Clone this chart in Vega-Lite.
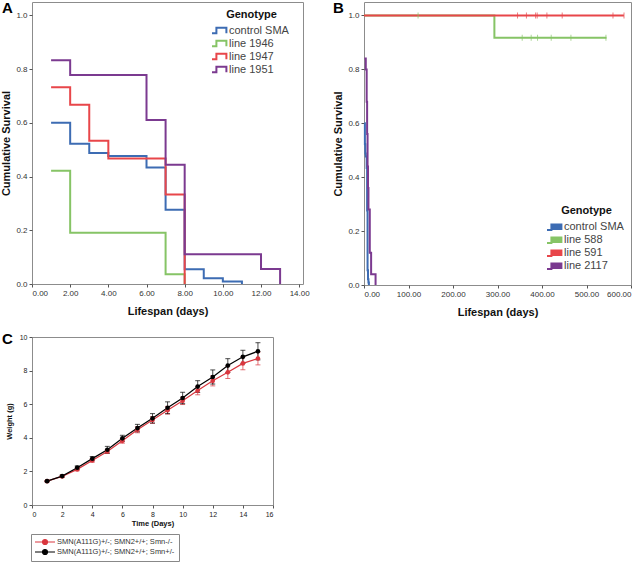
{
  "$schema": "https://vega.github.io/schema/vega-lite/v6.json",
  "autosize": {"type": "none", "contains": "content"},
  "padding": {"left": 32, "top": 2, "right": 611, "bottom": 560},
  "bounds": "flush",
  "columns": 2,
  "spacing": {"row": 52, "column": 61},
  "resolve": {"scale": {"color": "independent", "x": "independent", "y": "independent"}, "legend": {"color": "independent"}, "axis": {"x": "independent", "y": "independent"}},
  "config": {
    "font": "Liberation Sans",
    "view": {"stroke": "#8c8c8c", "strokeWidth": 1},
    "axis": {"grid": false, "domain": false, "tickColor": "#555", "labelColor": "#333", "titleColor": "#111", "titleFontWeight": "bold", "labelFont": "Liberation Sans", "titleFont": "Liberation Sans", "labelOverlap": false},
    "legend": {"labelFont": "Liberation Sans", "titleFont": "Liberation Sans"}
  },
  "datasets": {
    "kmA": [
      {"g": "control SMA", "t": 1, "s": 0.6},
      {"g": "control SMA", "t": 2, "s": 0.522},
      {"g": "control SMA", "t": 3, "s": 0.488},
      {"g": "control SMA", "t": 4, "s": 0.477},
      {"g": "control SMA", "t": 6, "s": 0.434},
      {"g": "control SMA", "t": 7, "s": 0.276},
      {"g": "control SMA", "t": 8, "s": 0.055},
      {"g": "control SMA", "t": 9, "s": 0.021},
      {"g": "control SMA", "t": 10, "s": 0.009},
      {"g": "control SMA", "t": 11, "s": 0},
      {"g": "line 1946", "t": 1, "s": 0.422},
      {"g": "line 1946", "t": 2, "s": 0.191},
      {"g": "line 1946", "t": 7, "s": 0.036},
      {"g": "line 1946", "t": 8, "s": 0},
      {"g": "line 1947", "t": 1, "s": 0.733},
      {"g": "line 1947", "t": 2, "s": 0.667},
      {"g": "line 1947", "t": 3, "s": 0.533},
      {"g": "line 1947", "t": 4, "s": 0.467},
      {"g": "line 1947", "t": 7, "s": 0.333},
      {"g": "line 1947", "t": 8, "s": 0},
      {"g": "line 1951", "t": 1, "s": 0.833},
      {"g": "line 1951", "t": 2, "s": 0.778},
      {"g": "line 1951", "t": 6, "s": 0.611},
      {"g": "line 1951", "t": 7, "s": 0.444},
      {"g": "line 1951", "t": 8, "s": 0.111},
      {"g": "line 1951", "t": 12, "s": 0.056},
      {"g": "line 1951", "t": 13, "s": 0}
    ],
    "kmB": [
      {"g": "control SMA", "t": 1, "s": 0.6},
      {"g": "control SMA", "t": 2, "s": 0.522},
      {"g": "control SMA", "t": 3, "s": 0.488},
      {"g": "control SMA", "t": 4, "s": 0.477},
      {"g": "control SMA", "t": 6, "s": 0.434},
      {"g": "control SMA", "t": 7, "s": 0.276},
      {"g": "control SMA", "t": 8, "s": 0.055},
      {"g": "control SMA", "t": 9, "s": 0.021},
      {"g": "control SMA", "t": 10, "s": 0.009},
      {"g": "control SMA", "t": 11, "s": 0},
      {"g": "line 588", "t": 0, "s": 1.0},
      {"g": "line 588", "t": 293, "s": 0.917},
      {"g": "line 588", "t": 545, "s": 0.917},
      {"g": "line 591", "t": 0, "s": 1.0},
      {"g": "line 591", "t": 584, "s": 1.0},
      {"g": "line 2117", "t": 1, "s": 0.84},
      {"g": "line 2117", "t": 4, "s": 0.8},
      {"g": "line 2117", "t": 6, "s": 0.68},
      {"g": "line 2117", "t": 7, "s": 0.56},
      {"g": "line 2117", "t": 8, "s": 0.44},
      {"g": "line 2117", "t": 9, "s": 0.36},
      {"g": "line 2117", "t": 10, "s": 0.28},
      {"g": "line 2117", "t": 13, "s": 0.12},
      {"g": "line 2117", "t": 16, "s": 0.04},
      {"g": "line 2117", "t": 26, "s": 0}
    ],
    "censorB": [
      {"g": "line 588", "t": 121.5, "s": 1.0},
      {"g": "line 588", "t": 355.5, "s": 0.917},
      {"g": "line 588", "t": 375.7, "s": 0.917},
      {"g": "line 588", "t": 390, "s": 0.917},
      {"g": "line 588", "t": 420.7, "s": 0.917},
      {"g": "line 588", "t": 465, "s": 0.917},
      {"g": "line 588", "t": 543.7, "s": 0.917},
      {"g": "line 591", "t": 345, "s": 1.0},
      {"g": "line 591", "t": 365, "s": 1.0},
      {"g": "line 591", "t": 385.6, "s": 1.0},
      {"g": "line 591", "t": 389.2, "s": 1.0},
      {"g": "line 591", "t": 411, "s": 1.0},
      {"g": "line 591", "t": 445.4, "s": 1.0},
      {"g": "line 591", "t": 559.5, "s": 1.0},
      {"g": "line 591", "t": 584.3, "s": 1.0}
    ],
    "weight": [
      {"geno": "SMN(A111G)+/-; SMN2+/+; Smn-/-", "day": 1, "w": 1.42, "lo": 1.38, "hi": 1.46},
      {"geno": "SMN(A111G)+/-; SMN2+/+; Smn-/-", "day": 2, "w": 1.70, "lo": 1.64, "hi": 1.76},
      {"geno": "SMN(A111G)+/-; SMN2+/+; Smn-/-", "day": 3, "w": 2.12, "lo": 2.04, "hi": 2.20},
      {"geno": "SMN(A111G)+/-; SMN2+/+; Smn-/-", "day": 4, "w": 2.65, "lo": 2.55, "hi": 2.75},
      {"geno": "SMN(A111G)+/-; SMN2+/+; Smn-/-", "day": 5, "w": 3.19, "lo": 3.07, "hi": 3.31},
      {"geno": "SMN(A111G)+/-; SMN2+/+; Smn-/-", "day": 6, "w": 3.82, "lo": 3.68, "hi": 3.96},
      {"geno": "SMN(A111G)+/-; SMN2+/+; Smn-/-", "day": 7, "w": 4.48, "lo": 4.30, "hi": 4.66},
      {"geno": "SMN(A111G)+/-; SMN2+/+; Smn-/-", "day": 8, "w": 5.06, "lo": 4.86, "hi": 5.26},
      {"geno": "SMN(A111G)+/-; SMN2+/+; Smn-/-", "day": 9, "w": 5.64, "lo": 5.41, "hi": 5.87},
      {"geno": "SMN(A111G)+/-; SMN2+/+; Smn-/-", "day": 10, "w": 6.20, "lo": 5.98, "hi": 6.42},
      {"geno": "SMN(A111G)+/-; SMN2+/+; Smn-/-", "day": 11, "w": 6.81, "lo": 6.56, "hi": 7.06},
      {"geno": "SMN(A111G)+/-; SMN2+/+; Smn-/-", "day": 12, "w": 7.39, "lo": 7.09, "hi": 7.69},
      {"geno": "SMN(A111G)+/-; SMN2+/+; Smn-/-", "day": 13, "w": 7.90, "lo": 7.53, "hi": 8.27},
      {"geno": "SMN(A111G)+/-; SMN2+/+; Smn-/-", "day": 14, "w": 8.43, "lo": 8.05, "hi": 8.81},
      {"geno": "SMN(A111G)+/-; SMN2+/+; Smn-/-", "day": 15, "w": 8.72, "lo": 8.34, "hi": 9.10},
      {"geno": "SMN(A111G)+/-; SMN2+/+; Smn+/-", "day": 1, "w": 1.42, "lo": 1.38, "hi": 1.46},
      {"geno": "SMN(A111G)+/-; SMN2+/+; Smn+/-", "day": 2, "w": 1.72, "lo": 1.66, "hi": 1.78},
      {"geno": "SMN(A111G)+/-; SMN2+/+; Smn+/-", "day": 3, "w": 2.22, "lo": 2.12, "hi": 2.32},
      {"geno": "SMN(A111G)+/-; SMN2+/+; Smn+/-", "day": 4, "w": 2.76, "lo": 2.64, "hi": 2.88},
      {"geno": "SMN(A111G)+/-; SMN2+/+; Smn+/-", "day": 5, "w": 3.29, "lo": 3.09, "hi": 3.49},
      {"geno": "SMN(A111G)+/-; SMN2+/+; Smn+/-", "day": 6, "w": 3.97, "lo": 3.79, "hi": 4.15},
      {"geno": "SMN(A111G)+/-; SMN2+/+; Smn+/-", "day": 7, "w": 4.58, "lo": 4.36, "hi": 4.80},
      {"geno": "SMN(A111G)+/-; SMN2+/+; Smn+/-", "day": 8, "w": 5.16, "lo": 4.88, "hi": 5.44},
      {"geno": "SMN(A111G)+/-; SMN2+/+; Smn+/-", "day": 9, "w": 5.79, "lo": 5.44, "hi": 6.14},
      {"geno": "SMN(A111G)+/-; SMN2+/+; Smn+/-", "day": 10, "w": 6.37, "lo": 6.03, "hi": 6.71},
      {"geno": "SMN(A111G)+/-; SMN2+/+; Smn+/-", "day": 11, "w": 7.05, "lo": 6.70, "hi": 7.40},
      {"geno": "SMN(A111G)+/-; SMN2+/+; Smn+/-", "day": 12, "w": 7.62, "lo": 7.20, "hi": 8.04},
      {"geno": "SMN(A111G)+/-; SMN2+/+; Smn+/-", "day": 13, "w": 8.30, "lo": 7.89, "hi": 8.71},
      {"geno": "SMN(A111G)+/-; SMN2+/+; Smn+/-", "day": 14, "w": 8.82, "lo": 8.43, "hi": 9.21},
      {"geno": "SMN(A111G)+/-; SMN2+/+; Smn+/-", "day": 15, "w": 9.15, "lo": 8.64, "hi": 9.66}
    ]
  },
  "concat": [
    {
      "title": {"text": "A", "anchor": "start", "frame": "group", "offset": 0, "dx": -30, "dy": 26, "fontSize": 15, "fontWeight": "bold", "baseline": "alphabetic", "color": "#000"},
      "width": 271,
      "height": 282,
      "data": {"name": "kmA"},
      "mark": {"type": "line", "interpolate": "step-after", "strokeWidth": 2},
      "encoding": {
        "x": {"field": "t", "type": "quantitative", "scale": {"domain": [0, 14.2], "nice": false, "zero": false},
          "axis": {"values": [0, 2, 4, 6, 8, 10, 12, 14], "format": ".2f", "title": "Lifespan (days)", "titleFontSize": 11, "labelFontSize": 8, "tickSize": 3, "labelPadding": 2, "titlePadding": 8}},
        "y": {"field": "s", "type": "quantitative", "scale": {"domain": [0, 1.05], "nice": false},
          "axis": {"values": [0, 0.2, 0.4, 0.6, 0.8, 1.0], "format": ".1f", "title": "Cumulative Survival", "titleFontSize": 11, "labelFontSize": 8, "tickSize": 3, "labelPadding": 2, "titlePadding": 4}},
        "color": {"field": "g", "type": "nominal",
          "scale": {"domain": ["control SMA", "line 1946", "line 1947", "line 1951"], "range": ["#3d6cb3", "#86c466", "#e8464a", "#7b3a90"]},
          "legend": {"title": "Genotype", "orient": "none", "direction": "vertical", "legendX": 182.5, "legendY": 6.5, "titleAnchor": "middle", "titleFontSize": 11, "titleFontWeight": "bold", "titleColor": "#111", "titlePadding": 5.5, "labelFontSize": 11, "labelColor": "#444", "labelOffset": 3.5, "rowPadding": -2.6, "padding": 0,
            "symbolType": "M-2,0.7H-0.9V-0.7H1.6V0.7", "symbolSize": 64, "symbolStrokeWidth": 2, "symbolFillColor": "transparent",
            "encode": {"symbols": {"update": {"fill": {"value": "transparent"}}}}}}
      }
    },
    {
      "title": {"text": "B", "anchor": "start", "frame": "group", "offset": 0, "dx": -31, "dy": 26, "fontSize": 15, "fontWeight": "bold", "baseline": "alphabetic", "color": "#000"},
      "width": 267,
      "height": 283,
      "encoding": {
        "x": {"field": "t", "type": "quantitative", "scale": {"domain": [0, 600], "nice": false, "zero": false},
          "axis": {"values": [0, 100, 200, 300, 400, 500, 600], "format": ".2f", "title": "Lifespan (days)", "titleFontSize": 11, "labelFontSize": 8, "tickSize": 3, "labelPadding": 2, "titlePadding": 8}},
        "y": {"field": "s", "type": "quantitative", "scale": {"domain": [0, 1.05], "nice": false},
          "axis": {"values": [0, 0.2, 0.4, 0.6, 0.8, 1.0], "format": ".1f", "title": "Cumulative Survival", "titleFontSize": 11, "labelFontSize": 8, "tickSize": 3, "labelPadding": 2, "titlePadding": 4}},
        "color": {"field": "g", "type": "nominal",
          "scale": {"domain": ["control SMA", "line 588", "line 591", "line 2117"], "range": ["#3d6cb3", "#86c466", "#e8464a", "#7b3a90"]},
          "legend": {"title": "Genotype", "orient": "none", "direction": "vertical", "legendX": 185.5, "legendY": 203.3, "titleAnchor": "middle", "titleFontSize": 11, "titleFontWeight": "bold", "titleColor": "#111", "titlePadding": 5.4, "labelFontSize": 11, "labelColor": "#444", "labelOffset": 3.5, "rowPadding": -3, "padding": 0,
            "symbolType": "M-2,0.7H-0.9V-0.7H1.6V0.7", "symbolSize": 64, "symbolStrokeWidth": 2, "symbolFillColor": "transparent",
            "encode": {"symbols": {"update": {"fill": {"value": "transparent"}}}}}}
      },
      "layer": [
        {
          "data": {"name": "kmB"},
          "mark": {"type": "line", "interpolate": "step-after", "strokeWidth": 2}
        },
        {
          "data": {"name": "censorB"},
          "mark": {"type": "tick", "orient": "vertical", "size": 6, "thickness": 1}
        }
      ]
    },
    {
      "title": {"text": "C", "anchor": "start", "frame": "group", "offset": 0, "dx": -30, "dy": 26, "fontSize": 15, "fontWeight": "bold", "baseline": "alphabetic", "color": "#000"},
      "width": 241,
      "height": 168,
      "data": {"name": "weight"},
      "encoding": {
        "x": {"field": "day", "type": "quantitative", "scale": {"domain": [0, 16], "nice": false},
          "axis": {"values": [0, 2, 4, 6, 8, 10, 12, 14, 16], "title": "Time (Days)", "titleFontSize": 7.5, "labelFontSize": 7, "labelColor": "#222", "tickSize": 3, "labelPadding": 2, "titlePadding": 2}},
        "color": {"field": "geno", "type": "nominal",
          "scale": {"domain": ["SMN(A111G)+/-; SMN2+/+; Smn-/-", "SMN(A111G)+/-; SMN2+/+; Smn+/-"], "range": ["#d9363e", "#000000"]},
          "legend": {"title": null, "orient": "none", "direction": "vertical", "legendX": -1, "legendY": 197, "padding": 4, "strokeColor": "#888", "fillColor": "#fff", "labelFontSize": 7.5, "labelColor": "#333", "labelOffset": 14, "rowPadding": 0, "labelLimit": 300,
            "symbolType": "M-1.33,0H5.33M1.17,0A0.83,0.83 0 1,0 2.83,0A0.83,0.83 0 1,0 1.17,0", "symbolSize": 36, "symbolStrokeWidth": 1.2,
            "encode": {"symbols": {"update": {"fill": {"signal": "datum.value === 'SMN(A111G)+/-; SMN2+/+; Smn-/-' ? '#d9363e' : '#000000'"}}}}}}
      },
      "layer": [
        {
          "mark": {"type": "rule", "strokeWidth": 1, "opacity": 0.7},
          "encoding": {
            "y": {"field": "lo", "type": "quantitative", "scale": {"domain": [0, 10], "nice": false},
              "axis": {"values": [0, 2, 4, 6, 8, 10], "title": "Weight (g)", "titleFontSize": 7.5, "labelFontSize": 7, "labelColor": "#222", "tickSize": 3, "labelPadding": 2, "titlePadding": 6}},
            "y2": {"field": "hi"}
          }
        },
        {
          "mark": {"type": "tick", "orient": "horizontal", "size": 5, "thickness": 1, "opacity": 0.7},
          "encoding": {"y": {"field": "hi", "type": "quantitative",
              "axis": {"values": [0, 2, 4, 6, 8, 10], "title": "Weight (g)", "titleFontSize": 7.5, "labelFontSize": 7, "labelColor": "#222", "tickSize": 3, "labelPadding": 2, "titlePadding": 6}}}
        },
        {
          "mark": {"type": "tick", "orient": "horizontal", "size": 5, "thickness": 1, "opacity": 0.7},
          "encoding": {"y": {"field": "lo", "type": "quantitative",
              "axis": {"values": [0, 2, 4, 6, 8, 10], "title": "Weight (g)", "titleFontSize": 7.5, "labelFontSize": 7, "labelColor": "#222", "tickSize": 3, "labelPadding": 2, "titlePadding": 6}}}
        },
        {
          "mark": {"type": "line", "strokeWidth": 1.2},
          "encoding": {"y": {"field": "w", "type": "quantitative",
              "axis": {"values": [0, 2, 4, 6, 8, 10], "title": "Weight (g)", "titleFontSize": 7.5, "labelFontSize": 7, "labelColor": "#222", "tickSize": 3, "labelPadding": 2, "titlePadding": 6}}}
        },
        {
          "mark": {"type": "point", "filled": true, "size": 22, "opacity": 1},
          "encoding": {"y": {"field": "w", "type": "quantitative",
              "axis": {"values": [0, 2, 4, 6, 8, 10], "title": "Weight (g)", "titleFontSize": 7.5, "labelFontSize": 7, "labelColor": "#222", "tickSize": 3, "labelPadding": 2, "titlePadding": 6}}}
        }
      ]
    }
  ]
}
